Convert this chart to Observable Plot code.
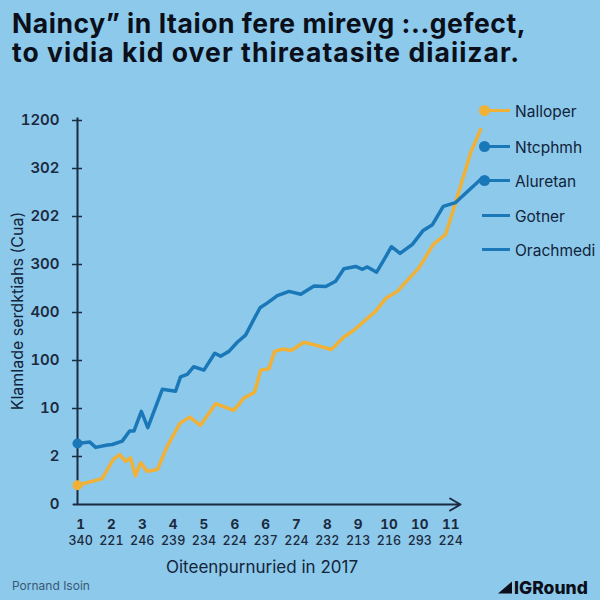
<!DOCTYPE html>
<html>
<head>
<meta charset="utf-8">
<script src="https://cdn.jsdelivr.net/npm/d3@7"></script>
<script src="https://cdn.jsdelivr.net/npm/@observablehq/plot@0.6"></script>
<style>
  html, body { margin: 0; padding: 0; }
  body { width: 600px; height: 600px; background: #8dc9ea; font-family: Inter, "Liberation Sans", sans-serif; overflow: hidden; }
  #wrap { position: relative; width: 600px; height: 600px; }
  #chart { position: absolute; left: 0; top: 0; }
  .title { position: absolute; left: 12px; font-size: 26.5px; font-weight: 700; line-height: 28px; height: 28px; color: #0a0f1a; white-space: nowrap; }
  .t1 { top: 9px; letter-spacing: 0.55px; }
  .t2 { top: 38px; letter-spacing: 1.05px; }
  .ylab { position: absolute; left: 17px; top: 311px; transform: translate(-50%, -50%) rotate(-90deg); font-size: 16px; color: #12233a; white-space: nowrap; }
  .xlab { position: absolute; left: 262px; top: 567px; transform: translate(-50%, -50%); font-size: 17px; color: #13253c; white-space: nowrap; }
  .caption { position: absolute; left: 12px; top: 585px; transform: translateY(-50%); font-size: 12px; color: #3a5877; white-space: nowrap; }
  .logo { position: absolute; left: 498px; top: 587px; transform: translateY(-50%); font-size: 17.5px; font-weight: 800; color: #0a0f1a; white-space: nowrap; display: flex; align-items: center; }
  .logo .tri { width: 0; height: 0; border-left: 14px solid transparent; border-bottom: 12px solid #0a0f1a; margin-right: 2px; }
  .legend-item { position: absolute; left: 478px; height: 20px; display: flex; align-items: center; transform: translateY(-50%); }
  .legend-item .sw { position: relative; width: 32px; height: 20px; margin-right: 5px; }
  .legend-item .sw .ln { position: absolute; left: 4px; right: 0; top: 8px; height: 3px; }
  .legend-item .sw .dt { position: absolute; left: 1px; top: 4px; width: 11px; height: 11px; border-radius: 50%; }
  .legend-item .tx { font-size: 15.5px; color: #10233a; }
</style>
</head>
<body>
<div id="wrap">
  <div id="chart"></div>
  <div class="title t1">Naincy” in Itaion fere mirevg :..gefect,</div>
  <div class="title t2">to vidia kid over thireatasite diaiizar.</div>
  <div class="ylab">Klamlade serdktiahs (Cua)</div>
  <div class="xlab">Oiteenpurnuried in 2017</div>
  <div class="caption">Pornand Isoin</div>
  <div class="logo"><span class="tri"></span>IGRound</div>
  <div id="legend"></div>
</div>
<script>
// ---- data ----
const xTop = ["1","2","3","4","5","6","6","7","8","9","10","10","11"];
const xBottom = ["340","221","246","239","234","224","237","224","232","213","216","293","224"];
const yLabels = ["0","2","10","100","400","300","202","302","1200"];

const blueT = [-0.1,0.30,0.49,0.87,1.03,1.35,1.59,1.73,1.97,2.18,2.65,3.08,3.24,3.46,3.67,4.00,4.35,4.54,4.81,5.08,5.35,5.82,6.06,6.38,6.76,7.14,7.57,7.95,8.27,8.54,8.92,9.14,9.30,9.60,9.84,10.08,10.36,10.76,11.11,11.41,11.76,12.16,12.97,13.1];
const blueV = [1.27,1.30,1.19,1.24,1.25,1.32,1.53,1.53,1.94,1.60,2.40,2.36,2.66,2.71,2.87,2.80,3.15,3.09,3.19,3.38,3.53,4.10,4.20,4.35,4.44,4.38,4.55,4.54,4.65,4.91,4.96,4.90,4.95,4.84,5.10,5.37,5.23,5.42,5.71,5.83,6.21,6.29,6.77,6.75];

const yellowT = [-0.1,0.70,1.06,1.27,1.46,1.62,1.78,1.95,2.16,2.49,2.81,3.22,3.54,3.89,4.38,4.97,5.30,5.64,5.84,6.11,6.29,6.57,6.83,7.24,7.62,8.13,8.54,8.86,9.57,9.89,10.27,10.97,11.44,11.84,12.16,12.65,12.97];
const yellowV = [0.40,0.54,0.94,1.04,0.90,0.97,0.60,0.87,0.69,0.73,1.21,1.69,1.82,1.65,2.10,1.96,2.22,2.34,2.80,2.83,3.19,3.24,3.21,3.38,3.32,3.23,3.49,3.63,4.03,4.29,4.44,4.93,5.42,5.63,6.29,7.33,7.81];

const legendNames = ["Nalloper","Ntcphmh","Aluretan","Gotner","Orachmedi"];
const legendKind = ["yellowDot","blueDot","blueDot","blueLine","blueLine"];

// ---- styles ----
const BLUE = "#1a78b9";
const YELLOW = "#f1b136";
const INK = "#1b2a40";
const xDom = [-0.1, 12.32];
const yDom = [0, 8];

const blue = blueT.map((t, i) => ({x: t, y: blueV[i]}));
const yellow = yellowT.map((t, i) => ({x: t, y: yellowV[i]}));

const chart = Plot.plot({
  width: 600,
  height: 600,
  marginLeft: 77,
  marginRight: 140,
  marginTop: 120,
  marginBottom: 96,
  style: {background: "transparent", fontFamily: "Inter, 'Liberation Sans', sans-serif", overflow: "visible"},
  x: {domain: xDom},
  y: {domain: yDom},
  marks: [
    Plot.axisY(d3.range(0, 9), {tickSize: 0, tickPadding: 18, tickFormat: i => yLabels[i], fontSize: 15, fontWeight: 600, fill: INK, label: null}),
    Plot.axisY(d3.range(1, 9), {tickSize: 10, dx: 5, tickFormat: () => "", stroke: INK, strokeWidth: 1.5, label: null}),
    Plot.axisX(d3.range(13), {tickSize: 0, tickPadding: 15, tickFormat: i => xTop[i], fontSize: 13.5, fontWeight: 700, fill: INK, label: null}),
    Plot.axisX(d3.range(13), {tickSize: 0, tickPadding: 32, tickFormat: i => xBottom[i], fontSize: 12.5, fontWeight: 500, fill: INK, letterSpacing: "0.8px", label: null}),
    Plot.ruleX([xDom[0]], {y1: () => yDom[0], y2: () => yDom[1] + 0.05, stroke: INK, strokeWidth: 2}),
    Plot.arrow([{a: xDom[0] - 0.13, b: xDom[1]}], {x1: "a", x2: "b", y1: () => 0, y2: () => 0, stroke: INK, strokeWidth: 2, headLength: 9}),
    Plot.line(yellow, {x: "x", y: "y", stroke: YELLOW, strokeWidth: 3.5, strokeLinejoin: "round"}),
    Plot.line(blue, {x: "x", y: "y", stroke: BLUE, strokeWidth: 3.5, strokeLinejoin: "round"}),
    Plot.dot([yellow[0]], {x: "x", y: "y", r: 5, fill: YELLOW}),
    Plot.dot([blue[0]], {x: "x", y: "y", r: 5, fill: BLUE})
  ]
});
document.getElementById("chart").append(chart);

// ---- legend ----
const legendTops = [111, 147, 181, 216, 250];
const leg = document.getElementById("legend");
legendNames.forEach((name, i) => {
  const kind = legendKind[i];
  const color = kind.startsWith("yellow") ? YELLOW : BLUE;
  const item = document.createElement("div");
  item.className = "legend-item";
  item.style.top = legendTops[i] + "px";
  const sw = document.createElement("div");
  sw.className = "sw";
  const ln = document.createElement("div");
  ln.className = "ln";
  ln.style.background = color;
  sw.append(ln);
  if (kind.endsWith("Dot")) {
    const dt = document.createElement("div");
    dt.className = "dt";
    dt.style.background = color;
    sw.append(dt);
  }
  const tx = document.createElement("span");
  tx.className = "tx";
  tx.textContent = name;
  item.append(sw, tx);
  leg.append(item);
});
</script>
</body>
</html>
